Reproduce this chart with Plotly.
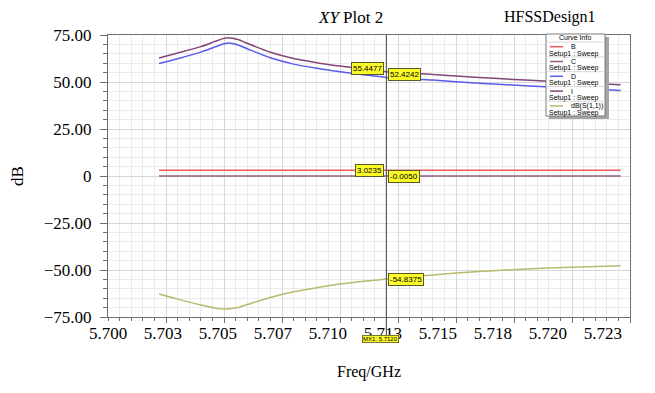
import numpy as np
import plotly.graph_objects as go

# ---- data ----
freq = [5.7022, 5.7030, 5.7040, 5.7046, 5.7050, 5.7052, 5.7056, 5.7060, 5.7070, 5.7080,
        5.7090, 5.7100, 5.7110, 5.7120, 5.7140, 5.7160, 5.7180, 5.7200, 5.7221]
curve_I = [62.8, 65.4, 68.8, 71.5, 73.2, 73.6, 72.6, 70.6, 65.8, 62.5,
           60.3, 58.5, 56.9, 55.45, 54.0, 52.4, 51.0, 49.8, 48.5]
curve_D = [59.8, 62.4, 65.9, 68.6, 70.3, 70.7, 69.7, 67.7, 62.9, 59.5,
           57.3, 55.5, 53.9, 52.42, 51.0, 49.4, 48.0, 46.8, 45.5]
curve_B = [3.0235] * len(freq)
curve_C = [-0.0050] * len(freq)
s11 = [-62.8, -65.5, -68.6, -70.2, -70.7, -70.6, -69.9, -68.4, -64.6, -61.6,
       -59.4, -57.5, -56.0, -54.84, -52.6, -50.8, -49.5, -48.5, -47.7]

x_major_ticks = [5.700, 5.7025, 5.705, 5.7075, 5.710, 5.7125, 5.715, 5.7175, 5.720, 5.7225]
x_label_pos = [5.700, 5.70237, 5.70474, 5.70711, 5.70948, 5.71185, 5.71422, 5.71659, 5.71896, 5.72133]
x_ticktext = ["5.700", "5.703", "5.705", "5.707", "5.710", "5.713", "5.715", "5.718", "5.720", "5.723"]
y_tickvals = [75, 50, 25, 0, -25, -50, -75]
y_ticktext = ["75.00", "50.00", "25.00", "0", "\u221225.00", "\u221250.00", "\u221275.00"]

cursor_x = 5.7120
cursor_label = "MX1: 5.7120"
marker_text = {"I": "55.4477", "D": "52.4242", "B": "3.0235", "C": "-0.0050", "S11": "-54.8375"}
sweep_label = "Setup1 : Sweep"

series = [
    ("B", curve_B, "rgb(235,90,90)"),
    ("C", curve_C, "rgb(150,90,130)"),
    ("D", curve_D, "rgb(90,90,235)"),
    ("I", curve_I, "rgb(130,70,120)"),
    ("dB(S(1,1))", s11, "rgb(185,185,110)"),
]

serif = "Liberation Serif"
x_range = [5.700, 5.7225]

fig = go.Figure()
# empty helper trace so the tick/grid axis (x2) is drawn
fig.add_trace(go.Scatter(x=x_range, y=[None, None], xaxis="x2", yaxis="y", mode="lines",
                         showlegend=False, hoverinfo="skip"))
for name, ys, col in series:
    fig.add_trace(go.Scatter(x=freq, y=ys, mode="lines", name=name,
                             line=dict(color=col, width=1.5, shape="spline", smoothing=0.8),
                             showlegend=False))

# page-pixel -> paper helpers (plot area spans 522 x 282 px)
def px(x):
    return (x - 108) / 522.0

def py(y):
    return (317 - y) / 282.0

# cursor line
fig.add_shape(type="line", xref="x", yref="paper", x0=cursor_x, x1=cursor_x, y0=py(336), y1=1,
              line=dict(color="rgb(90,90,90)", width=1.2))

def flag(y, text, side):
    fig.add_annotation(x=cursor_x, y=y, xref="x", yref="y", text=text, showarrow=False,
                       xanchor="right" if side == "left" else "left",
                       xshift=-2 if side == "left" else 2,
                       font=dict(family="Arial", size=8, color="black"),
                       bgcolor="rgb(250,250,40)", bordercolor="rgb(90,90,40)", borderwidth=1, borderpad=1)

flag(float(np.interp(cursor_x, freq, curve_I)) + 1.5, marker_text["I"], "left")
flag(float(np.interp(cursor_x, freq, curve_D)) + 1.5, marker_text["D"], "right")
flag(float(np.interp(cursor_x, freq, curve_B)), marker_text["B"], "left")
flag(float(np.interp(cursor_x, freq, curve_C)), marker_text["C"], "right")
flag(float(np.interp(cursor_x, freq, s11)), marker_text["S11"], "right")

fig.add_annotation(x=cursor_x, y=py(339), xref="x", yref="paper", text=cursor_label, showarrow=False,
                   xanchor="center", yanchor="middle", xshift=-6,
                   font=dict(family="Arial", size=6, color="black"),
                   bgcolor="rgb(250,250,40)", bordercolor="rgb(120,120,40)", borderwidth=1, borderpad=0)

# titles
fig.add_annotation(x=px(350), y=py(17), xref="paper", yref="paper", text="<i>XY</i> Plot 2",
                   showarrow=False, yanchor="middle", font=dict(family=serif, size=17, color="black"))
fig.add_annotation(x=px(598), y=py(17), xref="paper", yref="paper", text="HFSSDesign1",
                   showarrow=False, yanchor="middle", font=dict(family=serif, size=16, color="black"))

# ---- custom "Curve Info" legend box ----
fig.add_shape(type="rect", xref="paper", yref="paper", x0=px(549), x1=px(609), y0=py(119), y1=py(37),
              fillcolor="rgb(165,165,165)", line=dict(width=0), layer="above")
fig.add_shape(type="rect", xref="paper", yref="paper", x0=px(546), x1=px(605), y0=py(116), y1=py(34),
              fillcolor="white", line=dict(color="rgb(120,120,120)", width=1), layer="above")
fig.add_annotation(x=px(575), y=py(37.5), xref="paper", yref="paper", text="Curve Info", showarrow=False,
                   xanchor="center", yanchor="middle", font=dict(family="Arial", size=7, color="black"))
for i, (name, ys, col) in enumerate(series):
    yc = 46.7 + 14.8 * i
    fig.add_shape(type="line", xref="paper", yref="paper", x0=px(546), x1=px(605),
                  y0=py(yc - 4.6), y1=py(yc - 4.6),
                  line=dict(color="rgb(215,215,215)", width=1), layer="above")
    fig.add_shape(type="line", xref="paper", yref="paper", x0=px(550), x1=px(563),
                  y0=py(yc), y1=py(yc), line=dict(color=col, width=1.5), layer="above")
    fig.add_annotation(x=px(569), y=py(yc), xref="paper", yref="paper", text=name, showarrow=False,
                       xanchor="left", yanchor="middle", font=dict(family="Arial", size=7, color="black"))
    fig.add_annotation(x=px(547), y=py(yc + 7), xref="paper", yref="paper", text=sweep_label,
                       showarrow=False, xanchor="left", yanchor="middle",
                       font=dict(family="Arial", size=7, color="black"))

axis_col = "rgb(110,110,110)"
fig.update_layout(
    width=639, height=377,
    margin=dict(l=100, r=17, t=27, b=68),
    paper_bgcolor="white", plot_bgcolor="white",
    font=dict(family=serif, size=16, color="black"),
    showlegend=False,
    xaxis=dict(range=x_range, tickmode="array", tickvals=x_label_pos, ticktext=x_ticktext,
               showline=True, linecolor=axis_col, linewidth=1.2, mirror=True,
               ticks="", showgrid=False, zeroline=False,
               title=dict(text="Freq/GHz", font=dict(family=serif, size=16), standoff=24),
               tickfont=dict(family=serif, size=17), automargin=False),
    xaxis2=dict(overlaying="x", anchor="y", side="bottom", range=x_range,
                tickmode="array", tickvals=x_major_ticks, ticktext=[""] * len(x_major_ticks),
                ticks="outside", ticklen=5, tickcolor=axis_col, showline=False, zeroline=False,
                showgrid=True, gridcolor="rgb(215,215,215)", gridwidth=1,
                minor=dict(tickvals=list(np.arange(5.700, 5.72251, 0.0005)), ticks="outside", ticklen=3,
                           tickcolor=axis_col, showgrid=True, gridcolor="rgb(235,235,235)"),
                automargin=False),
    yaxis=dict(range=[-75, 75], tickmode="array", tickvals=y_tickvals, ticktext=y_ticktext,
               showline=True, linecolor=axis_col, linewidth=1.2, mirror=True,
               ticks="outside", ticklen=7, tickcolor=axis_col, ticklabelstandoff=5,
               showgrid=True, gridcolor="rgb(215,215,215)", gridwidth=1, zeroline=False,
               minor=dict(tickvals=list(range(-75, 76, 5)), ticks="outside", ticklen=4,
                          tickcolor=axis_col, showgrid=True, gridcolor="rgb(235,235,235)"),
               title=dict(text="dB", font=dict(family=serif, size=17), standoff=15),
               tickfont=dict(family=serif, size=17), automargin=False),
)

fig.write_html("out.html")
